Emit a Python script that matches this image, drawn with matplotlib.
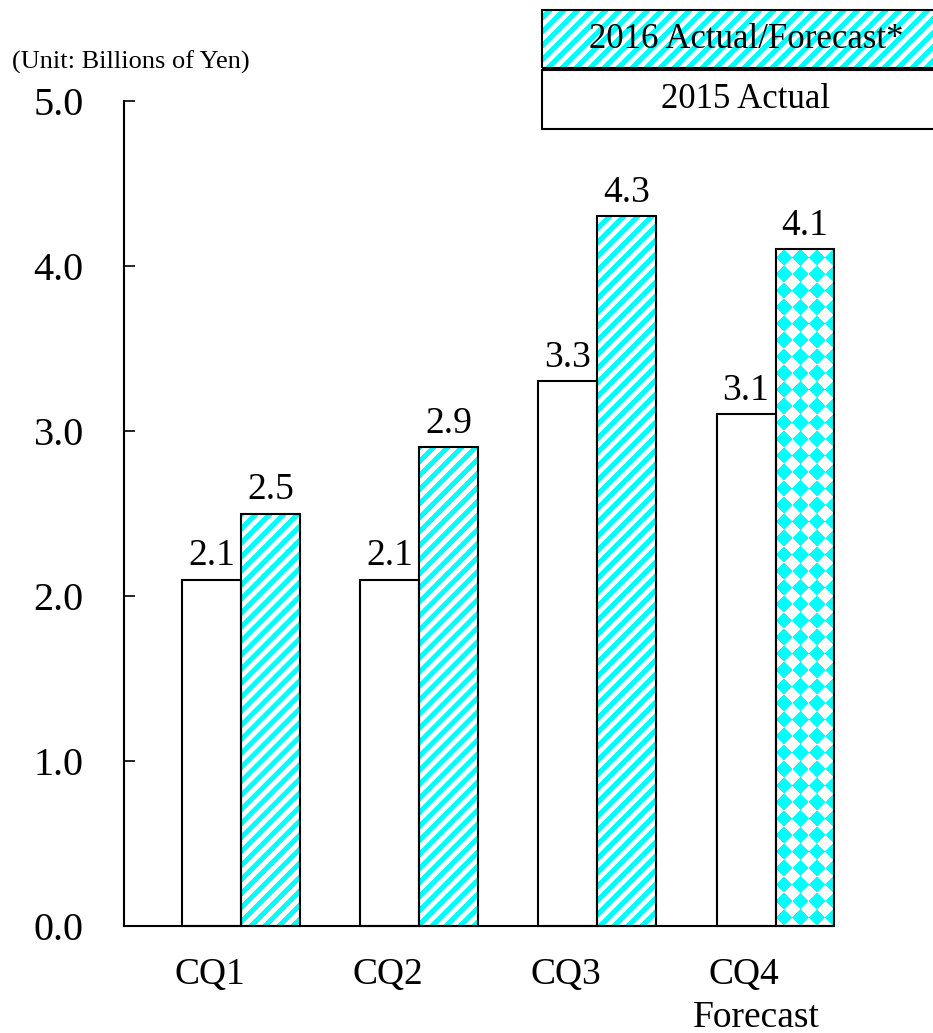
import matplotlib
matplotlib.use("Agg")
import matplotlib.pyplot as plt
import numpy as np
from matplotlib.patches import Rectangle

plt.rcParams['font.family'] = ['Liberation Serif', 'DejaVu Serif']

quarters = ['CQ1', 'CQ2', 'CQ3', 'CQ4']
actual_2015 = [2.1, 2.1, 3.3, 3.1]
actual_2016 = [2.5, 2.9, 4.3, 4.1]
forecast_flags = [False, False, False, True]   # CQ4 of 2016 is a forecast

CYAN = np.array([0.0, 1.0, 1.0])
WHITE = np.array([1.0, 1.0, 1.0])


def texture(ax, x0, y0, w, h, kind, zorder=1):
    # build a pixel texture (stripes or diamonds) sized to the patch on screen
    (px0, py0), (px1, py1) = ax.transData.transform([(x0, y0), (x0 + w, y0 + h)])
    W = max(int(round(abs(px1 - px0))), 1)
    H = max(int(round(abs(py1 - py0))), 1)
    X = min(px0, px1) + np.arange(W)[None, :] + 0.5
    Y = min(py0, py1) + np.arange(H)[:, None] + 0.5
    if kind == 'stripes':
        p = 14.0
        mask = np.mod(X - Y, p) < p / 2
    else:
        s = 16.5
        u = np.floor((X + Y) / s)
        v = np.floor((X - Y) / s)
        mask = np.mod(u + v, 2) == 0
    img = np.where(mask[..., None], CYAN, WHITE)
    im = ax.imshow(img, extent=(x0, x0 + w, y0, y0 + h), origin='lower',
                   interpolation='bilinear', aspect='auto', zorder=zorder)
    im.set_clip_on(False)


fig = plt.figure(figsize=(9.33, 10.33), dpi=100)
ax = fig.add_axes([124 / 933, 107 / 1033, 709 / 933, 825 / 1033])

x = np.arange(len(quarters))
width = 0.331
ax.set_xlim(-0.6566, 3.3227)
ax.set_ylim(0, 5.0)

b15 = ax.bar(x - width / 2, actual_2015, width, facecolor='white',
             edgecolor='black', linewidth=1.5, zorder=2, clip_on=False)
b16 = ax.bar(x + width / 2, actual_2016, width, facecolor='none',
             edgecolor='black', linewidth=1.5, zorder=3, clip_on=False)

for rect, fc in zip(b16, forecast_flags):
    texture(ax, rect.get_x(), 0, rect.get_width(), rect.get_height(),
            'diamonds' if fc else 'stripes', zorder=1)

for rects in (b15, b16):
    for rect in rects:
        ax.annotate(f"{rect.get_height():.1f}",
                    (rect.get_x() + rect.get_width() / 2, rect.get_height()),
                    xytext=(0, 4.5), textcoords='offset points',
                    ha='center', va='bottom', fontsize=27)

ax.set_xticks(x - width / 2 - 0.01)
ax.set_xticklabels(quarters, fontsize=27)
ax.tick_params(axis='x', length=0, pad=23)
ax.annotate('Forecast', (x[-1] - 0.11, 0), xytext=(0, -66),
            textcoords='offset points', ha='center', va='center', fontsize=27)

ax.set_yticks(np.arange(0, 5.01, 1.0))
ax.set_yticklabels([f"{v:.1f}" for v in np.arange(0, 5.01, 1.0)], fontsize=29)
ax.tick_params(axis='y', direction='in', length=8, width=1.2, pad=29)

for side in ('top', 'right'):
    ax.spines[side].set_visible(False)
for side in ('left', 'bottom'):
    ax.spines[side].set_linewidth(1.5)
ax.set_xlim(-0.6566, 3.3227)
ax.set_ylim(0, 5.0)

fig.text(12 / 933, 1 - 62 / 1033, '(Unit: Billions of Yen)', fontsize=19,
         ha='left', va='center')

# legend boxes drawn in pixel coordinates
lax = fig.add_axes([0, 0, 1, 1], zorder=5)
lax.set_xlim(0, 933)
lax.set_ylim(0, 1033)
lax.axis('off')
lax.patch.set_alpha(0)
texture(lax, 542, 965, 408, 58, 'stripes', zorder=1)
lax.add_patch(Rectangle((542, 965), 408, 58, facecolor='none',
                        edgecolor='black', linewidth=1.5, zorder=2))
lax.add_patch(Rectangle((542, 904), 408, 59, facecolor='white',
                        edgecolor='black', linewidth=1.5, zorder=2))
lax.text(746, 993, '2016 Actual/Forecast*', fontsize=25, ha='center', va='center', zorder=3)
lax.text(746, 933, '2015 Actual', fontsize=25, ha='center', va='center', zorder=3)
lax.set_xlim(0, 933)
lax.set_ylim(0, 1033)

fig.savefig('out.png', dpi=100)
